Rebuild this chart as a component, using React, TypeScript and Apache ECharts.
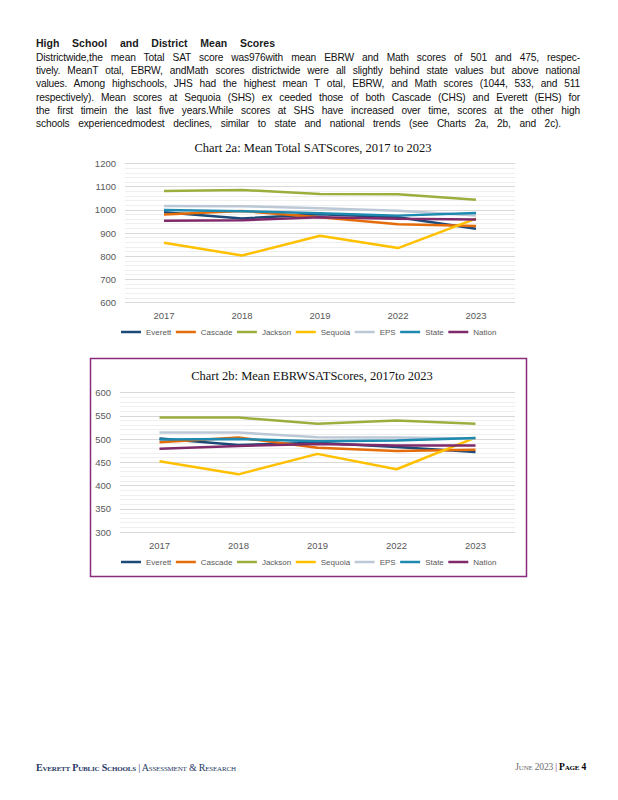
import React, { useEffect, useRef } from "react";
import * as echarts from "echarts";

const years = ["2017", "2018", "2019", "2022", "2023"];
const seriesNames = ["Everett", "Cascade", "Jackson", "Sequoia", "EPS", "State", "Nation"];
const seriesColors = ["#1B4A78", "#E46C0A", "#9BAF3F", "#FFC000", "#BCC8D6", "#1F8AB0", "#7E2A6B"];

// Chart 2a: Mean Total SAT scores
const everettTotal = [990, 963, 981, 968, 918];
const cascadeTotal = [980, 995, 968, 938, 930];
const jacksonTotal = [1081, 1086, 1068, 1067, 1044];
const sequoiaTotal = [858, 803, 888, 835, 962];
const epsTotal = [1017, 1016, 1007, 996, 976];
const stateTotal = [999, 994, 985, 975, 986];
const nationTotal = [953, 955, 968, 962, 958];

// Chart 2b: Mean EBRW SAT scores
const everettEbrw = [501, 487, 492, 483, 472];
const cascadeEbrw = [493, 503, 481, 474, 477];
const jacksonEbrw = [546, 546, 533, 540, 533];
const sequoiaEbrw = [452, 424, 468, 435, 503];
const epsEbrw = [514, 514, 504, 503, 501];
const stateEbrw = [499, 500, 495, 497, 502];
const nationEbrw = [479, 485, 489, 486, 486];

const totalData = [everettTotal, cascadeTotal, jacksonTotal, sequoiaTotal, epsTotal, stateTotal, nationTotal];
const ebrwData = [everettEbrw, cascadeEbrw, jacksonEbrw, sequoiaEbrw, epsEbrw, stateEbrw, nationEbrw];

const titleA = "Chart 2a: Mean Total SATScores, 2017 to 2023";
const titleB = "Chart 2b: Mean EBRWSATScores, 2017to 2023";

const heading = "High School and District Mean Scores";
const paragraphLines = [
  "Districtwide,the  mean  Total SAT score was976with mean  EBRW  and Math  scores of 501 and 475, respec-",
  "tively.  MeanT otal,  EBRW,  andMath  scores districtwide were all slightly behind state values but above national",
  "values.  Among highschools,  JHS  had the highest mean T  otal,  EBRW,  and Math  scores (1044,  533,  and  511",
  "respectively).  Mean  scores at Sequoia (SHS) ex ceeded those of both  Cascade (CHS)  and  Everett (EHS)   for",
  "the  first timein  the last five  years.While  scores at SHS  have increased over time,  scores at the other high",
  "schools experiencedmodest   declines,  similar  to state and national trends (see Charts 2a, 2b, and 2c).",
];

const axisLabelColor = "#595959";
const sans = "Liberation Sans, Arial, sans-serif";
const serif = "Liberation Serif, Times New Roman, serif";

function makeYAxis(gridIndex: number, min: number, max: number, interval: number) {
  return {
    type: "value",
    gridIndex,
    min,
    max,
    interval,
    axisLine: { show: false },
    axisTick: { show: false },
    axisLabel: {
      color: axisLabelColor,
      fontSize: 9.5,
      fontFamily: sans,
      margin: 9,
      formatter: (v: number) => String(v),
    },
    splitLine: { show: true, lineStyle: { color: "#D9D9D9", width: 1 } },
    minorTick: { show: false, splitNumber: 5 },
    minorSplitLine: { show: true, lineStyle: { color: "#EFEFEF", width: 1 } },
  };
}

function makeXAxis(gridIndex: number) {
  return {
    type: "category",
    gridIndex,
    data: years,
    boundaryGap: true,
    axisLine: { show: false },
    axisTick: { show: false },
    axisLabel: { color: axisLabelColor, fontSize: 9.5, fontFamily: sans, margin: 8 },
  };
}

function makeLegend(top: number) {
  return {
    data: seriesNames,
    left: 121,
    top,
    padding: 0,
    icon: "rect",
    itemWidth: 20,
    itemHeight: 2.5,
    itemGap: 4.5,
    selectedMode: false,
    textStyle: { color: axisLabelColor, fontSize: 8, fontFamily: sans },
  };
}

export default function App() {
  const ref = useRef<HTMLDivElement>(null);

  useEffect(() => {
    if (!ref.current) return;
    const chart = echarts.init(ref.current, undefined, { renderer: "svg" });
    const series: any[] = [];
    seriesNames.forEach((name, i) => {
      series.push({
        name,
        type: "line",
        xAxisIndex: 0,
        yAxisIndex: 0,
        data: totalData[i],
        symbol: "none",
        lineStyle: { color: seriesColors[i], width: 2.5 },
        itemStyle: { color: seriesColors[i] },
      });
    });
    seriesNames.forEach((name, i) => {
      series.push({
        name,
        type: "line",
        xAxisIndex: 1,
        yAxisIndex: 1,
        data: ebrwData[i],
        symbol: "none",
        lineStyle: { color: seriesColors[i], width: 2.5 },
        itemStyle: { color: seriesColors[i] },
      });
    });

    chart.setOption({
      animation: false,
      backgroundColor: "#ffffff",
      title: [
        {
          text: titleA,
          left: 308,
          textAlign: "center",
          top: 136,
          textStyle: { fontFamily: serif, fontSize: 12.5, fontWeight: "normal", color: "#111" },
        },
        {
          text: titleB,
          left: 307,
          textAlign: "center",
          top: 364,
          textStyle: { fontFamily: serif, fontSize: 12.5, fontWeight: "normal", color: "#111" },
        },
      ],
      legend: [makeLegend(328), makeLegend(558)],
      grid: [
        { left: 125, top: 163.5, width: 390, height: 139, containLabel: false },
        { left: 120, top: 392.5, width: 395, height: 139.5, containLabel: false },
      ],
      xAxis: [makeXAxis(0), makeXAxis(1)],
      yAxis: [makeYAxis(0, 600, 1200, 100), makeYAxis(1, 300, 600, 50)],
      series,
      graphic: [
        {
          type: "rect",
          shape: { x: 90.5, y: 358.5, width: 436, height: 218 },
          style: { fill: "none", stroke: "#8A2D7C", lineWidth: 1.5 },
          z: 10,
        },
      ],
    });
    return () => chart.dispose();
  }, []);

  const justifyLine: React.CSSProperties = {
    position: "absolute",
    left: 36,
    width: 544,
    fontFamily: sans,
    fontSize: 10.2,
    lineHeight: "13px",
    color: "#111",
    whiteSpace: "nowrap",
    textAlign: "justify",
    textAlignLast: "justify",
    letterSpacing: "-0.15px",
  };

  return (
    <div style={{ position: "absolute", left: 0, top: 0, width: 618, height: 800, background: "#fff" }}>
      <div ref={ref} style={{ position: "absolute", left: 0, top: 0, width: 618, height: 800 }} />
      <div
        style={{
          position: "absolute",
          left: 36,
          top: 37,
          width: 239,
          fontFamily: sans,
          fontWeight: "bold",
          fontSize: 10.5,
          lineHeight: "13px",
          color: "#1a1a1a",
          textAlign: "justify",
          textAlignLast: "justify",
          whiteSpace: "nowrap",
        }}
      >
        {heading}
      </div>
      {paragraphLines.map((line, i) => (
        <div
          key={i}
          style={{
            ...justifyLine,
            top: 51 + i * 13.2,
            ...(i === paragraphLines.length - 1 ? { width: 525 } : {}),
          }}
        >
          {line}
        </div>
      ))}
      <div
        style={{
          position: "absolute",
          left: 36,
          top: 762,
          fontFamily: serif,
          fontSize: 10,
          fontVariant: "small-caps",
          color: "#1F3864",
          whiteSpace: "nowrap",
          letterSpacing: "-0.2px",
        }}
      >
        <span style={{ fontWeight: "bold" }}>Everett Public Schools</span>
        <span> | Assessment &amp; Research</span>
      </div>
      <div
        style={{
          position: "absolute",
          right: 32,
          top: 762,
          fontFamily: serif,
          fontSize: 9.5,
          fontVariant: "small-caps",
          whiteSpace: "nowrap",
          letterSpacing: "-0.2px",
        }}
      >
        <span style={{ color: "#6b6b6b" }}>June 2023 </span>
        <span style={{ color: "#7E2A6B" }}>| </span>
        <span style={{ color: "#000", fontWeight: "bold" }}>Page 4</span>
      </div>
    </div>
  );
}
